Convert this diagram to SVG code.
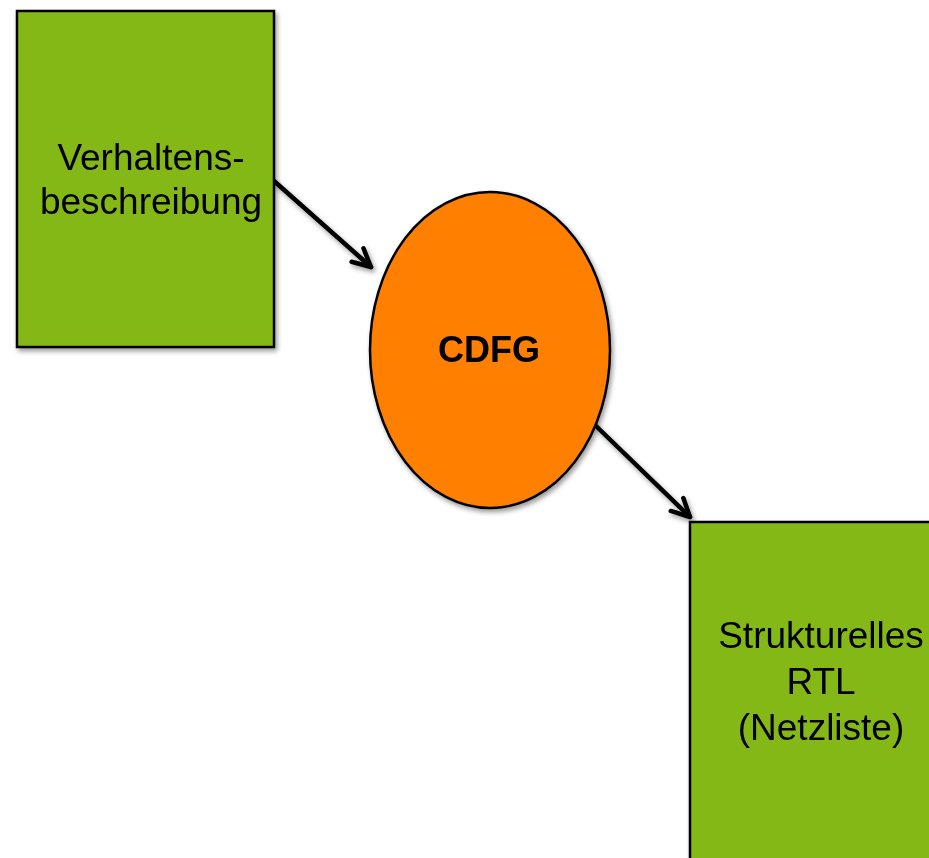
<svg xmlns="http://www.w3.org/2000/svg" width="929" height="858" viewBox="0 0 929 858">
<style>
.box{fill:#84b819;stroke:#000;stroke-width:2.5}
.ell{fill:#ff7f00;stroke:#000;stroke-width:2.5}
.t{font-family:"Liberation Sans",Arial,sans-serif;font-size:37px;fill:#000;text-anchor:middle}
.b{font-weight:bold;font-size:36px}
.c{fill:none;stroke:#000;stroke-width:4.5;stroke-linecap:round}
</style>
<defs>
<filter id="sh" x="-10%" y="-10%" width="130%" height="130%">
<feGaussianBlur in="SourceAlpha" stdDeviation="2.5"/>
<feOffset dx="2" dy="3" result="o"/>
<feComponentTransfer><feFuncA type="linear" slope="0.4"/></feComponentTransfer>
<feMerge><feMergeNode/><feMergeNode in="SourceGraphic"/></feMerge>
</filter>
<marker id="arr" markerUnits="userSpaceOnUse" markerWidth="30" markerHeight="30" refX="22" refY="12" orient="auto">
<path d="M4,3 L22,12 L4,21" fill="none" stroke="#000" stroke-width="4.5" stroke-linecap="round" stroke-linejoin="round"/>
</marker>
</defs>
<g id="connectors" filter="url(#sh)">
<line class="c" x1="274" y1="181" x2="371" y2="267" marker-end="url(#arr)"/>
<line class="c" x1="596" y1="426" x2="690" y2="517" marker-end="url(#arr)"/>
</g>
<g id="node-verhaltens" filter="url(#sh)">
<rect class="box" x="17" y="11" width="257" height="336"/>
<text class="t" x="151" y="170">Verhaltens-</text>
<text class="t" x="151" y="214">beschreibung</text>
</g>
<g id="node-cdfg" filter="url(#sh)">
<ellipse class="ell" cx="490" cy="350" rx="120" ry="158"/>
<text class="t b" x="489" y="362">CDFG</text>
</g>
<g id="node-rtl" filter="url(#sh)">
<rect class="box" x="690" y="522" width="262" height="350"/>
<text class="t" x="821" y="648">Strukturelles</text>
<text class="t" x="821" y="694">RTL</text>
<text class="t" x="821" y="740">(Netzliste)</text>
</g>
</svg>
